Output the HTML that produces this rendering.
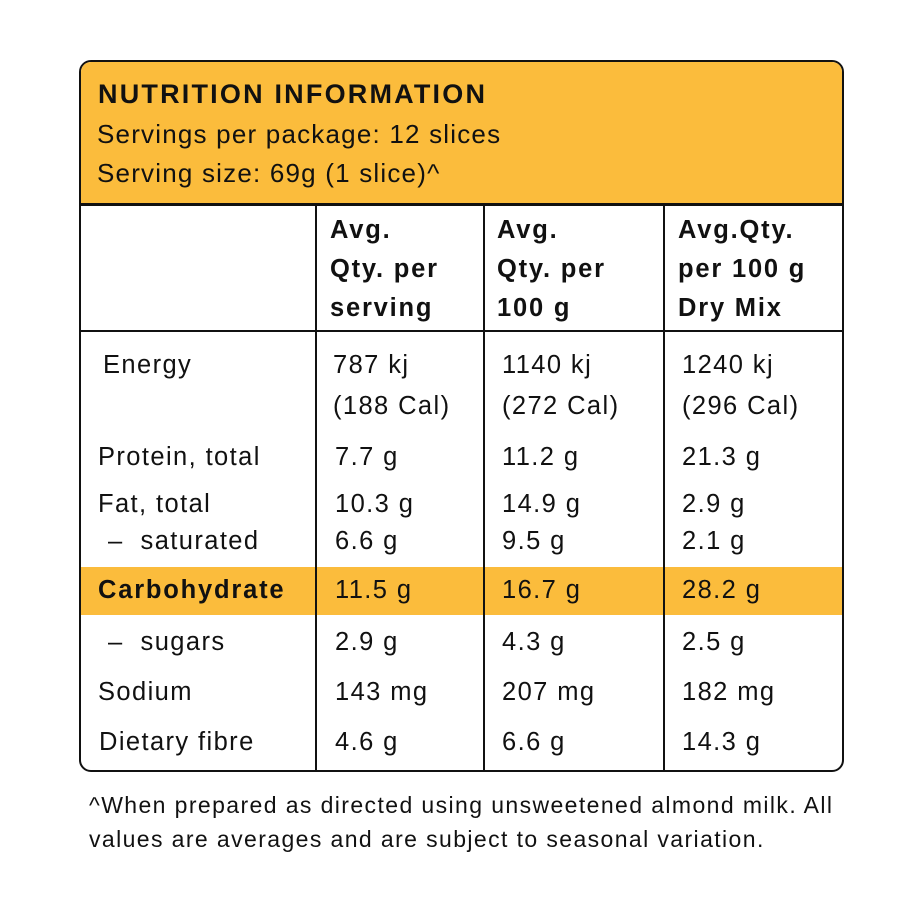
<!DOCTYPE html><html><head><style>
body{margin:0;width:918px;height:918px;background:#fff;position:relative;font-family:"Liberation Sans",sans-serif;color:#111;overflow:hidden}
.t{position:absolute;font-size:25.5px;white-space:nowrap;line-height:1;letter-spacing:1.4px}
.b{font-weight:bold;letter-spacing:1.8px}
.box{position:absolute;left:79px;top:60px;width:761px;height:708px;border:2.5px solid #111;border-radius:12px;overflow:hidden}
.hl{position:absolute;background:#111}
</style></head><body>
<div class="box">
<div style="position:absolute;left:0;top:0;width:100%;height:142px;background:#FBBC3C"></div>
<div style="position:absolute;left:0;top:505px;width:100%;height:48px;background:#FBBC3C"></div>
<div class="hl" style="left:0;top:141px;width:100%;height:2.5px"></div>
<div class="hl" style="left:0;top:268px;width:100%;height:2px"></div>
<div class="hl" style="left:234px;top:142px;width:2px;height:600px"></div>
<div class="hl" style="left:402px;top:142px;width:2px;height:600px"></div>
<div class="hl" style="left:582px;top:142px;width:2px;height:600px"></div>
</div>
<div class="t b" style="left:98px;top:81px;font-size:27px;letter-spacing:2.2px">NUTRITION INFORMATION</div>
<div class="t" style="left:97px;top:121px;font-size:26px;letter-spacing:1.2px">Servings per package: 12 slices</div>
<div class="t" style="left:97px;top:160px;font-size:26px;letter-spacing:1.2px">Serving size: 69g (1 slice)^</div>

<div class="t b" style="left:330px;top:218px">Avg.</div>
<div class="t b" style="left:330px;top:257px">Qty. per</div>
<div class="t b" style="left:330px;top:296px">serving</div>
<div class="t b" style="left:497px;top:218px">Avg.</div>
<div class="t b" style="left:497px;top:257px">Qty. per</div>
<div class="t b" style="left:497px;top:296px">100 g</div>
<div class="t b" style="left:678px;top:218px">Avg.Qty.</div>
<div class="t b" style="left:678px;top:257px">per 100 g</div>
<div class="t b" style="left:678px;top:296px">Dry Mix</div>

<div class="t" style="left:103px;top:353px">Energy</div>
<div class="t" style="left:333px;top:353px">787 kj</div>
<div class="t" style="left:333px;top:394px">(188 Cal)</div>
<div class="t" style="left:502px;top:353px">1140 kj</div>
<div class="t" style="left:502px;top:394px">(272 Cal)</div>
<div class="t" style="left:682px;top:353px">1240 kj</div>
<div class="t" style="left:682px;top:394px">(296 Cal)</div>

<div class="t" style="left:98px;top:445px">Protein, total</div>
<div class="t" style="left:335px;top:445px">7.7 g</div>
<div class="t" style="left:502px;top:445px">11.2 g</div>
<div class="t" style="left:682px;top:445px">21.3 g</div>

<div class="t" style="left:98px;top:492px">Fat, total</div>
<div class="t" style="left:335px;top:492px">10.3 g</div>
<div class="t" style="left:502px;top:492px">14.9 g</div>
<div class="t" style="left:682px;top:492px">2.9 g</div>

<div class="t" style="left:108px;top:529px">–&nbsp; saturated</div>
<div class="t" style="left:335px;top:529px">6.6 g</div>
<div class="t" style="left:502px;top:529px">9.5 g</div>
<div class="t" style="left:682px;top:529px">2.1 g</div>

<div class="t b" style="left:98px;top:578px">Carbohydrate</div>
<div class="t" style="left:335px;top:578px">11.5 g</div>
<div class="t" style="left:502px;top:578px">16.7 g</div>
<div class="t" style="left:682px;top:578px">28.2 g</div>

<div class="t" style="left:108px;top:630px">–&nbsp; sugars</div>
<div class="t" style="left:335px;top:630px">2.9 g</div>
<div class="t" style="left:502px;top:630px">4.3 g</div>
<div class="t" style="left:682px;top:630px">2.5 g</div>

<div class="t" style="left:98px;top:680px">Sodium</div>
<div class="t" style="left:335px;top:680px">143 mg</div>
<div class="t" style="left:502px;top:680px">207 mg</div>
<div class="t" style="left:682px;top:680px">182 mg</div>

<div class="t" style="left:99px;top:730px">Dietary fibre</div>
<div class="t" style="left:335px;top:730px">4.6 g</div>
<div class="t" style="left:502px;top:730px">6.6 g</div>
<div class="t" style="left:682px;top:730px">14.3 g</div>

<div class="t" style="left:89px;top:794px;font-size:23px;letter-spacing:1.4px">^When prepared as directed using unsweetened almond milk. All</div>
<div class="t" style="left:89px;top:828px;font-size:23px;letter-spacing:1.4px">values are averages and are subject to seasonal variation.</div>
</body></html>
